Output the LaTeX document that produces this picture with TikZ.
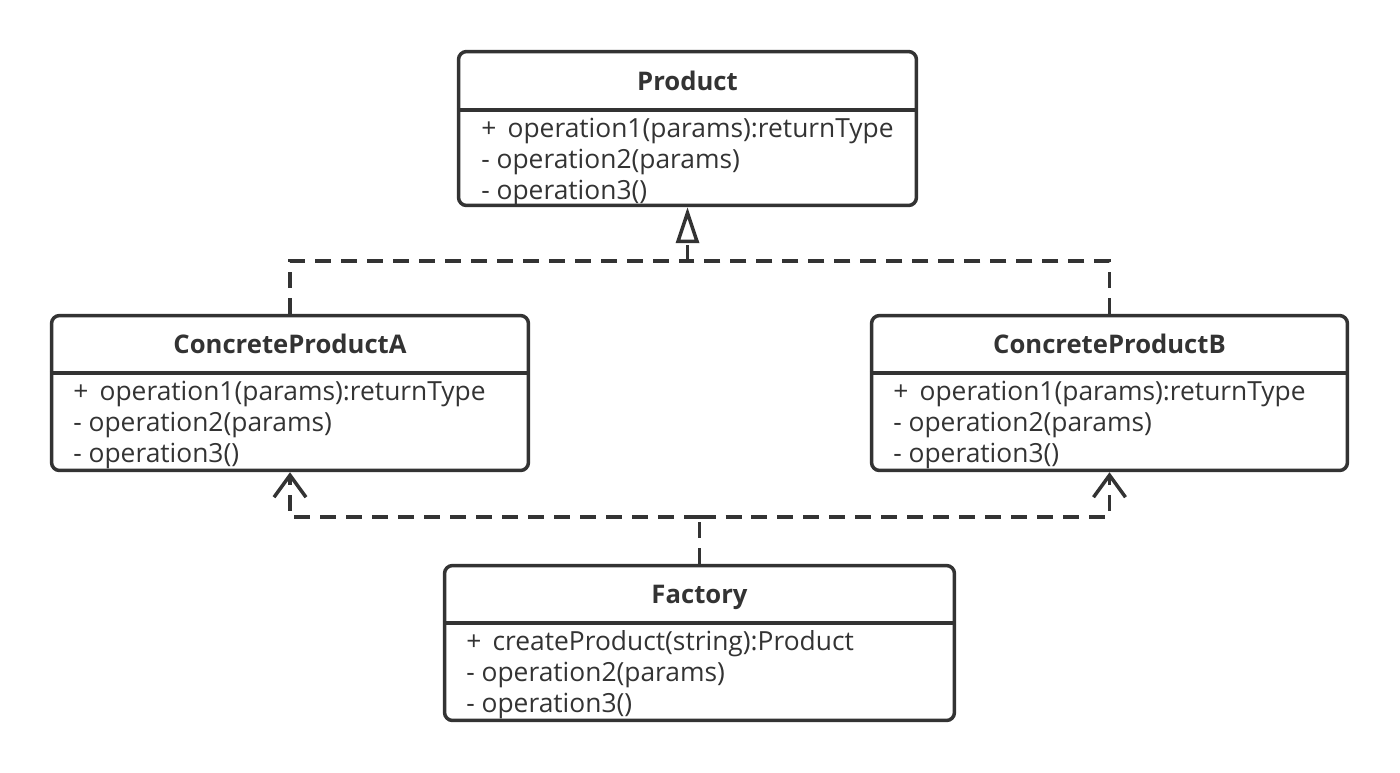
\documentclass[tikz,border=0pt]{standalone}
\usepackage{fontspec}
\setmainfont{Open Sans}
\usetikzlibrary{arrows.meta}
\definecolor{ink}{HTML}{333333}
\begin{document}
\begin{tikzpicture}[
    x=0.02cm, y=-0.02cm,
    box/.style={rectangle, draw=ink, line width=0.07cm, rounded corners=0.16cm, inner sep=0},
    sep/.style={draw=ink, line width=0.07cm},
    title/.style={anchor=base, inner sep=0, text=ink, font=\fontsize{14.6}{17}\selectfont\bfseries},
    member/.style={anchor=base west, inner sep=0, text=ink, font=\fontsize{15}{17}\selectfont},
    dep/.style={draw=ink, line width=0.07cm, dash pattern=on 0.32cm off 0.2cm}
]
\useasboundingbox (0,0) rectangle (1400,772);

% Classi
\node[box, minimum width=9.16cm, minimum height=3.08cm] (prod) at (687.5,128.5) {};
\draw[sep] (prod.west |- 0,110) -- (prod.east |- 0,110);
\node[title] (prodt) at (687.5,90) {Product};
\node[member] (prod1) at (481,137) {+\, operation1(params):returnType};
\node[member] (prod2) at (481,168) {- operation2(params)};
\node[member] (prod3) at (481,199) {- operation3()};

\node[box, minimum width=9.54cm, minimum height=3.1cm] (a) at (290,393) {};
\draw[sep] (a.west |- 0,373) -- (a.east |- 0,373);
\node[title] (at) at (290,353.5) {ConcreteProductA};
\node[member] (a1) at (73,400) {+\, operation1(params):returnType};
\node[member] (a2) at (73,431) {- operation2(params)};
\node[member] (a3) at (73,462) {- operation3()};

\node[box, minimum width=9.52cm, minimum height=3.1cm] (b) at (1109.5,393) {};
\draw[sep] (b.west |- 0,373) -- (b.east |- 0,373);
\node[title] (bt) at (1109.5,353.5) {ConcreteProductB};
\node[member] (b1) at (893,400) {+\, operation1(params):returnType};
\node[member] (b2) at (893,431) {- operation2(params)};
\node[member] (b3) at (893,462) {- operation3()};

\node[box, minimum width=10.2cm, minimum height=3.1cm] (fac) at (699.5,643) {};
\draw[sep] (fac.west |- 0,623) -- (fac.east |- 0,623);
\node[title] (fact) at (699.5,603.5) {Factory};
\node[member] (fac1) at (466,650) {+\, createProduct(string):Product};
\node[member] (fac2) at (466,681) {- operation2(params)};
\node[member] (fac3) at (466,712) {- operation3()};

% Collegamenti
\coordinate (pj) at (687.5,261);
\coordinate (fj) at (699.5,517);
\draw[dep] (a.north) |- (pj);
\draw[dep] (b.north) |- (pj);
\draw[dep, -{Triangle[open, length=0.72cm, width=0.46cm]}] (pj) -- (prod.south);
\draw[dep] (fac.north) -- (fj);
\draw[dep, -{Straight Barb[length=0.44cm, width=0.64cm]}] (fj) -| (a.south);
\draw[dep, -{Straight Barb[length=0.44cm, width=0.64cm]}] (fj) -| (b.south);
\end{tikzpicture}
\end{document}
